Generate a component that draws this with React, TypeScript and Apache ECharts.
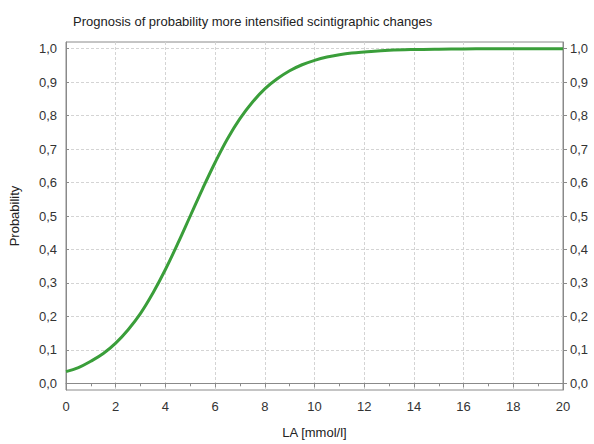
import React, { useEffect, useRef } from "react";
import * as echarts from "echarts";

const xValues = [0, 0.5, 1, 1.5, 2, 2.5, 3, 3.5, 4, 4.5, 5, 5.5, 6, 6.5, 7, 7.5, 8, 8.5, 9, 9.5, 10, 10.5, 11, 11.5, 12, 13, 14, 15, 16, 17, 18, 19, 20];
const yValues = [0.035, 0.047, 0.066, 0.089, 0.12, 0.16, 0.209, 0.27, 0.34, 0.418, 0.5, 0.582, 0.66, 0.731, 0.791, 0.84, 0.88, 0.91, 0.934, 0.952, 0.965, 0.975, 0.982, 0.987, 0.99, 0.995, 0.9975, 0.9987, 0.9993, 0.9997, 0.9998, 0.9999, 1.0];
const yTicks = [0, 0.1, 0.2, 0.3, 0.4, 0.5, 0.6, 0.7, 0.8, 0.9, 1.0];

const FONT = "Liberation Sans, Arial, sans-serif";
const AXIS = "#8a8a8a";
const fmt = (v: number) => v.toFixed(1).replace(".", ",");

export default function App() {
  const ref = useRef<HTMLDivElement>(null);
  useEffect(() => {
    if (!ref.current) return;
    const chart = echarts.init(ref.current, undefined, { renderer: "svg" });
    const yAxisBase = {
      type: "value" as const,
      min: -0.02,
      max: 1.02,
      axisLine: { show: true, lineStyle: { color: AXIS, width: 1 } },
    };
    chart.setOption({
      animation: false,
      backgroundColor: "#fff",
      title: {
        text: "Prognosis of probability more intensified scintigraphic changes",
        left: 73,
        top: 15,
        padding: 0,
        textStyle: { fontFamily: FONT, fontSize: 13, fontWeight: "normal", color: "#222" },
      },
      grid: { left: 62, right: 31, top: 42, bottom: 49, show: true, borderColor: AXIS, borderWidth: 1 },
      xAxis: {
        type: "value",
        min: 0,
        max: 20,
        interval: 2,
        name: "LA [mmol/l]",
        nameLocation: "middle",
        nameGap: 36,
        nameTextStyle: { fontFamily: FONT, fontSize: 13, color: "#222" },
        axisLine: { show: true, lineStyle: { color: AXIS } },
        axisTick: { show: true, length: 4, lineStyle: { color: AXIS } },
        minorTick: { show: true, splitNumber: 2, length: 3, lineStyle: { color: AXIS } },
        axisLabel: { fontFamily: FONT, fontSize: 13, color: "#333", margin: 10 },
        splitLine: { show: true, lineStyle: { color: "#d4d4d4", type: [3, 2] } },
      },
      yAxis: [
        {
          ...yAxisBase,
          position: "left",
          name: "Probability",
          nameLocation: "middle",
          nameGap: 45,
          nameTextStyle: { fontFamily: FONT, fontSize: 13, color: "#222" },
          axisTick: { show: true, inside: true, length: 3, lineStyle: { color: AXIS }, customValues: yTicks },
          axisLabel: { fontFamily: FONT, fontSize: 13, color: "#333", margin: 9, customValues: yTicks, formatter: fmt },
          splitLine: { show: true, lineStyle: { color: "#d4d4d4", type: [3, 2] } },
        },
        {
          ...yAxisBase,
          position: "right",
          axisTick: { show: true, length: 4, lineStyle: { color: AXIS }, customValues: yTicks },
          axisLabel: { fontFamily: FONT, fontSize: 13, color: "#333", margin: 7, customValues: yTicks, formatter: fmt },
          splitLine: { show: false },
        },
      ],
      series: [
        {
          type: "line",
          data: xValues.map((x, i) => [x, yValues[i]]),
          smooth: 0.4,
          showSymbol: false,
          lineStyle: { color: "#3a9e3a", width: 3 },
          itemStyle: { color: "#3a9e3a" },
        },
      ],
    });
    return () => chart.dispose();
  }, []);
  return <div ref={ref} style={{ position: "absolute", left: 0, top: 0, width: 594, height: 444 }} />;
}
